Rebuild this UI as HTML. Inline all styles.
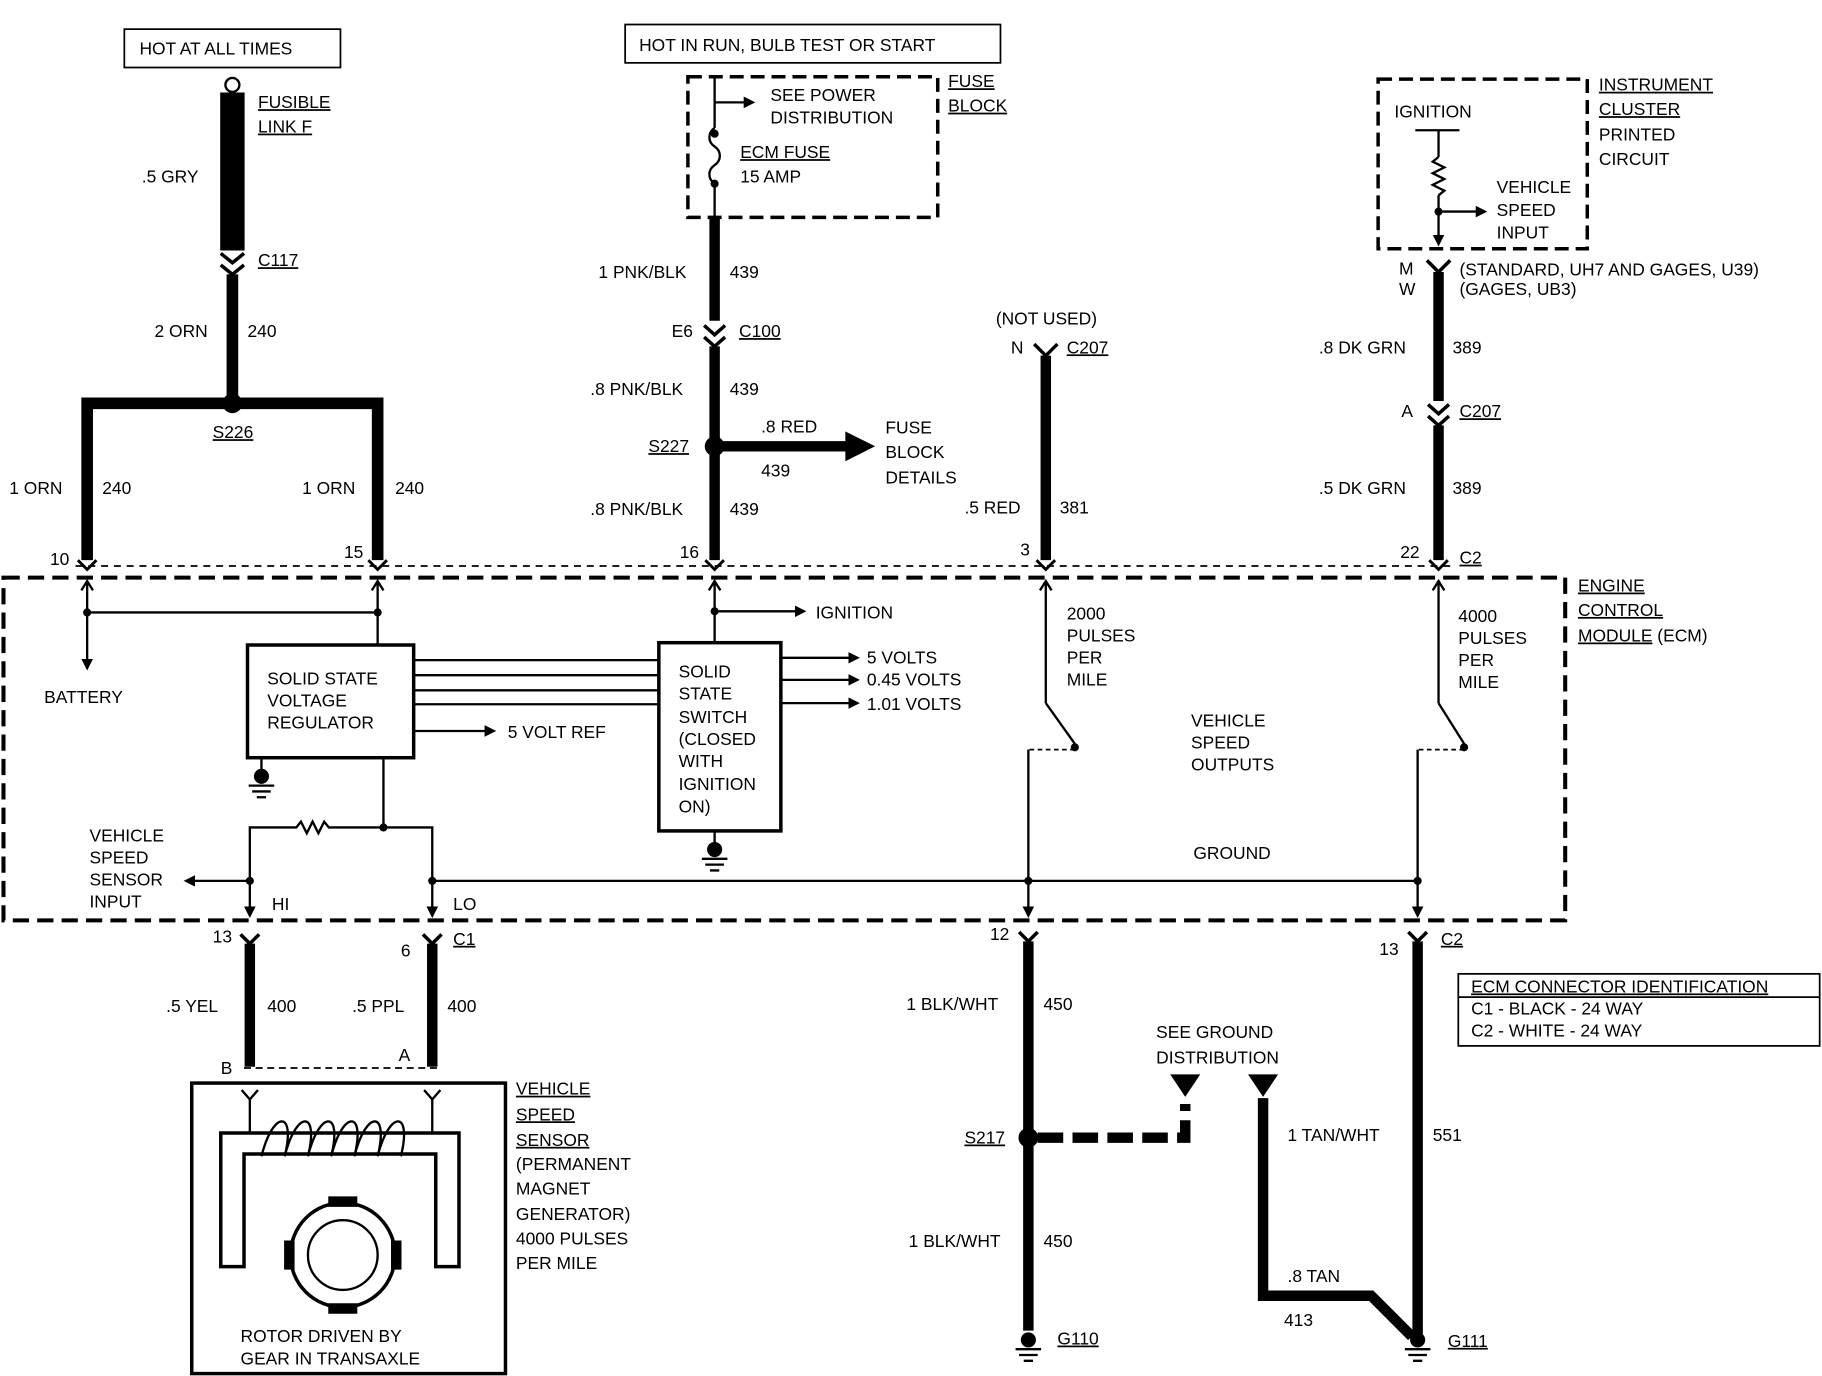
<!DOCTYPE html>
<html><head><meta charset="utf-8"><style>
html,body{margin:0;padding:0;background:#fff;}
svg{display:block;}
text{font-family:"Liberation Sans",Arial,sans-serif;font-size:15px;fill:#000;}
</style></head><body>
<svg width="1822" height="1376" viewBox="0 0 1568 1184" xmlns="http://www.w3.org/2000/svg">
<defs>
<marker id="ah" markerWidth="10" markerHeight="10" refX="8" refY="5" orient="auto" markerUnits="userSpaceOnUse"><path d="M0,0 L10,5 L0,10 z" fill="#000"/></marker>
</defs>
<g stroke="#000" fill="none">
<rect x="107" y="25" width="186" height="33" stroke-width="1.5"/>
<circle cx="200" cy="73" r="6" stroke-width="2"/>
<rect x="190" y="80" width="20" height="135" fill="#000"/>
<path d="M190,218 L200,226 L210,218 M190,228 L200,236 L210,228" stroke-width="3"/>
<line x1="200" y1="236" x2="200" y2="345" stroke-width="10"/>
<path d="M75,482 V347 H325 V482" stroke-width="10"/>
<circle cx="200" cy="347" r="8" fill="#000"/>
<rect x="538" y="21" width="323" height="33" stroke-width="1.5"/>
<rect x="592" y="66" width="215" height="121" stroke-width="3" stroke-dasharray="12,6"/>
<line x1="615" y1="66" x2="615" y2="110" stroke-width="2"/>
<path d="M615,110 c-6,4 -6,12 0,16 c6,4 6,12 0,16 c-6,4 -6,12 0,16" stroke-width="2"/>
<line x1="615" y1="158" x2="615" y2="190" stroke-width="2"/>
<line x1="615" y1="88" x2="648" y2="88" stroke-width="2" marker-end="url(#ah)"/>
<circle cx="615" cy="115" r="3" fill="#000"/><circle cx="615" cy="158" r="3" fill="#000"/>
<line x1="615" y1="188" x2="615" y2="276" stroke-width="9"/>
<path d="M606,280 L615,288 L624,280 M606,290 L615,298 L624,290" stroke-width="3"/>
<line x1="615" y1="298" x2="615" y2="482" stroke-width="9"/>
<circle cx="615" cy="384" r="8" fill="#000"/>
<line x1="622" y1="384" x2="730" y2="384" stroke-width="9"/>
<path d="M728,372 L752,384 L728,396 z" fill="#000"/>
<path d="M890,296 L900,306 L910,296" stroke-width="3"/>
<line x1="900" y1="306" x2="900" y2="482" stroke-width="9"/>
<rect x="1186" y="68" width="180" height="146" stroke-width="3" stroke-dasharray="12,6"/>
<line x1="1218" y1="112" x2="1256" y2="112" stroke-width="2"/>
<line x1="1238" y1="112" x2="1238" y2="135" stroke-width="2"/>
<path d="M1238,135 l-5,4 l10,5 l-10,5 l10,5 l-10,5 l10,5 l-5,4" stroke-width="2"/>
<line x1="1238" y1="168" x2="1238" y2="210" stroke-width="2" marker-end="url(#ah)"/>
<circle cx="1238" cy="182" r="3" fill="#000"/>
<line x1="1238" y1="182" x2="1278" y2="182" stroke-width="2" marker-end="url(#ah)"/>
<path d="M1228,224 L1238,234 L1248,224" stroke-width="3"/>
<line x1="1238" y1="234" x2="1238" y2="345" stroke-width="9"/>
<path d="M1229,348 L1238,356 L1247,348 M1229,358 L1238,366 L1247,358" stroke-width="3"/>
<line x1="1238" y1="366" x2="1238" y2="482" stroke-width="9"/>
<line x1="65" y1="487" x2="1248" y2="487" stroke-width="1.5" stroke-dasharray="6,5"/>
<path d="M67,482 L75,490 L83,482 M317,482 L325,490 L333,482 M607,482 L615,490 L623,482 M892,482 L900,490 L908,482 M1230,482 L1238,490 L1246,482" stroke-width="2.5"/>
<rect x="3" y="497" width="1344" height="295" stroke-width="3.5" stroke-dasharray="14,7"/>
<line x1="75" y1="500" x2="75" y2="575" stroke-width="2" marker-end="url(#ah)"/>
<path d="M70,508 L75,500 L80,508 M320,508 L325,500 L330,508 M610,508 L615,500 L620,508 M895,508 L900,500 L905,508 M1233,508 L1238,500 L1243,508" stroke-width="2"/>
<line x1="75" y1="527" x2="325" y2="527" stroke-width="2"/>
<circle cx="75" cy="527" r="3" fill="#000"/><circle cx="325" cy="527" r="3" fill="#000"/>
<line x1="325" y1="500" x2="325" y2="555" stroke-width="2"/>
<rect x="213" y="555" width="143" height="97" stroke-width="3"/>
<line x1="225" y1="652" x2="225" y2="665" stroke-width="2"/>
<circle cx="225" cy="668" r="6" fill="#000"/>
<path d="M214,676 H236 M217,681 H233 M221,686 H229" stroke-width="2"/>
<line x1="330" y1="652" x2="330" y2="712" stroke-width="2"/>
<path d="M215,758 V712 H255 l4,-5 l5,10 l5,-10 l5,10 l5,-10 l4,5 H372 V758" stroke-width="2"/>
<circle cx="330" cy="712" r="3" fill="#000"/>
<line x1="215" y1="758" x2="215" y2="788" stroke-width="2" marker-end="url(#ah)"/>
<line x1="372" y1="758" x2="372" y2="788" stroke-width="2" marker-end="url(#ah)"/>
<line x1="215" y1="758" x2="160" y2="758" stroke-width="2" marker-end="url(#ah)"/>
<circle cx="215" cy="758" r="3" fill="#000"/><circle cx="372" cy="758" r="3" fill="#000"/>
<line x1="372" y1="758" x2="1220" y2="758" stroke-width="2"/>
<line x1="356" y1="568" x2="567" y2="568" stroke-width="2"/>
<line x1="356" y1="581" x2="567" y2="581" stroke-width="2"/>
<line x1="356" y1="594" x2="567" y2="594" stroke-width="2"/>
<line x1="356" y1="606" x2="567" y2="606" stroke-width="2"/>
<line x1="356" y1="629" x2="425" y2="629" stroke-width="2" marker-end="url(#ah)"/>
<rect x="567" y="553" width="105" height="162" stroke-width="3"/>
<line x1="615" y1="500" x2="615" y2="553" stroke-width="2"/>
<line x1="615" y1="526" x2="692" y2="526" stroke-width="2" marker-end="url(#ah)"/>
<circle cx="615" cy="526" r="3" fill="#000"/>
<line x1="672" y1="566" x2="738" y2="566" stroke-width="2" marker-end="url(#ah)"/>
<line x1="672" y1="585" x2="738" y2="585" stroke-width="2" marker-end="url(#ah)"/>
<line x1="672" y1="605" x2="738" y2="605" stroke-width="2" marker-end="url(#ah)"/>
<line x1="615" y1="715" x2="615" y2="727" stroke-width="2"/>
<circle cx="615" cy="731" r="6" fill="#000"/>
<path d="M604,739 H626 M607,744 H623 M611,749 H619" stroke-width="2"/>
<line x1="900" y1="500" x2="900" y2="605" stroke-width="2"/>
<line x1="900" y1="605" x2="925" y2="640" stroke-width="2"/>
<circle cx="925" cy="643" r="3" fill="#000"/>
<path d="M925,645 H885" stroke-width="1.5" stroke-dasharray="4,3"/>
<line x1="885" y1="645" x2="885" y2="788" stroke-width="2" marker-end="url(#ah)"/>
<circle cx="885" cy="758" r="3" fill="#000"/>
<line x1="1238" y1="500" x2="1238" y2="605" stroke-width="2"/>
<line x1="1238" y1="605" x2="1260" y2="640" stroke-width="2"/>
<circle cx="1260" cy="643" r="3" fill="#000"/>
<path d="M1260,645 H1220" stroke-width="1.5" stroke-dasharray="4,3"/>
<line x1="1220" y1="645" x2="1220" y2="788" stroke-width="2" marker-end="url(#ah)"/>
<circle cx="1220" cy="758" r="3" fill="#000"/>
<path d="M207,804 L215,812 L223,804 M364,804 L372,812 L380,804 M877,802 L885,810 L893,802 M1212,802 L1220,810 L1228,802" stroke-width="3"/>
<line x1="215" y1="812" x2="215" y2="918" stroke-width="9"/>
<line x1="372" y1="812" x2="372" y2="918" stroke-width="9"/>
<line x1="210" y1="919" x2="377" y2="919" stroke-width="1.5" stroke-dasharray="6,4"/>
<rect x="165" y="932" width="270" height="250" stroke-width="3"/>
<path d="M208,938 L215,946 L222,938 M365,938 L372,946 L379,938 M215,946 V975 M372,946 V975" stroke-width="2"/>
<path d="M190,1090 V975 H395 V1090 H375 V993 H210 V1090 Z" stroke-width="3"/>
<path d="M225,995 C235,955 255,955 245,995 C255,955 275,955 265,995 C275,955 295,955 285,995 C295,955 315,955 305,995 C315,955 335,955 325,995 C335,955 355,955 345,995" stroke-width="2"/>
<circle cx="295" cy="1080" r="45" stroke-width="3"/>
<circle cx="295" cy="1080" r="30" stroke-width="2"/>
<path d="M283,1030 h24 v8 h-24z M283,1122 h24 v8 h-24z M245,1068 v24 h8 v-24z M337,1068 v24 h8 v-24z" fill="#000"/>
<line x1="885" y1="810" x2="885" y2="1145" stroke-width="9"/>
<circle cx="885" cy="979" r="8" fill="#000"/>
<path d="M893,979 H1020 V950" stroke-width="9" stroke-dasharray="22,8"/>
<path d="M1008,925 L1020,943 L1032,925 z M1075,925 L1087,943 L1099,925 z" fill="#000"/>
<path d="M1087,945 V1115 H1180 L1215,1150" stroke-width="9"/>
<line x1="1220" y1="810" x2="1220" y2="1148" stroke-width="9"/>
<circle cx="885" cy="1153" r="6" fill="#000"/>
<path d="M874,1161 H896 M877,1166 H893 M881,1171 H889" stroke-width="2"/>
<circle cx="1220" cy="1153" r="6" fill="#000"/>
<path d="M1209,1161 H1231 M1212,1166 H1228 M1216,1171 H1224" stroke-width="2"/>
<rect x="1255" y="838" width="311" height="62" stroke-width="1.5"/>
<line x1="1255" y1="858" x2="1566" y2="858" stroke-width="1.5"/>
</g>
<g>
<text x="120" y="47">HOT AT ALL TIMES</text>
<text x="222" y="93" text-decoration="underline">FUSIBLE</text>
<text x="222" y="114" text-decoration="underline">LINK F</text>
<text x="122" y="157">.5 GRY</text>
<text x="222" y="229" text-decoration="underline">C117</text>
<text x="133" y="290">2 ORN</text><text x="213" y="290">240</text>
<text x="183" y="377" text-decoration="underline">S226</text>
<text x="8" y="425">1 ORN</text><text x="88" y="425">240</text>
<text x="260" y="425">1 ORN</text><text x="340" y="425">240</text>
<text x="43" y="486" font-size="13">10</text><text x="296" y="480" font-size="13">15</text>
<text x="550" y="44">HOT IN RUN, BULB TEST OR START</text>
<text x="663" y="87">SEE POWER</text><text x="663" y="106">DISTRIBUTION</text>
<text x="637" y="136" text-decoration="underline">ECM FUSE</text><text x="637" y="157">15 AMP</text>
<text x="816" y="75" text-decoration="underline">FUSE</text><text x="816" y="96" text-decoration="underline">BLOCK</text>
<text x="515" y="239">1 PNK/BLK</text><text x="628" y="239">439</text>
<text x="578" y="290">E6</text><text x="636" y="290" text-decoration="underline">C100</text>
<text x="508" y="340">.8 PNK/BLK</text><text x="628" y="340">439</text>
<text x="655" y="372">.8 RED</text><text x="655" y="410">439</text>
<text x="558" y="389" text-decoration="underline">S227</text>
<text x="762" y="373">FUSE</text><text x="762" y="394">BLOCK</text><text x="762" y="416">DETAILS</text>
<text x="508" y="443">.8 PNK/BLK</text><text x="628" y="443">439</text>
<text x="585" y="480" font-size="13">16</text>
<text x="857" y="279">(NOT USED)</text>
<text x="870" y="304">N</text><text x="918" y="304" text-decoration="underline">C207</text>
<text x="830" y="442">.5 RED</text><text x="912" y="442">381</text>
<text x="878" y="478" font-size="13">3</text>
<text x="1376" y="78" text-decoration="underline">INSTRUMENT</text>
<text x="1376" y="99" text-decoration="underline">CLUSTER</text>
<text x="1376" y="121">PRINTED</text><text x="1376" y="142">CIRCUIT</text>
<text x="1200" y="101">IGNITION</text>
<text x="1288" y="166">VEHICLE</text><text x="1288" y="186">SPEED</text><text x="1288" y="205">INPUT</text>
<text x="1204" y="236">M</text><text x="1204" y="254">W</text>
<text x="1256" y="237">(STANDARD, UH7 AND GAGES, U39)</text>
<text x="1256" y="254">(GAGES, UB3)</text>
<text x="1135" y="304">.8 DK GRN</text><text x="1250" y="304">389</text>
<text x="1206" y="359">A</text><text x="1256" y="359" text-decoration="underline">C207</text>
<text x="1135" y="425">.5 DK GRN</text><text x="1250" y="425">389</text>
<text x="1205" y="480" font-size="13">22</text><text x="1256" y="485" text-decoration="underline">C2</text>
<text x="1358" y="509" text-decoration="underline">ENGINE</text>
<text x="1358" y="530" text-decoration="underline">CONTROL</text>
<text x="1358" y="552"><tspan text-decoration="underline">MODULE</tspan> (ECM)</text>
<text x="38" y="605">BATTERY</text>
<text x="230" y="589">SOLID STATE</text><text x="230" y="608">VOLTAGE</text><text x="230" y="627">REGULATOR</text>
<text x="437" y="635">5 VOLT REF</text>
<text x="584" y="583">SOLID</text><text x="584" y="602">STATE</text><text x="584" y="622">SWITCH</text>
<text x="584" y="641">(CLOSED</text><text x="584" y="660">WITH</text><text x="584" y="680">IGNITION</text><text x="584" y="699">ON)</text>
<text x="702" y="532">IGNITION</text>
<text x="746" y="571">5 VOLTS</text><text x="746" y="590">0.45 VOLTS</text><text x="746" y="611">1.01 VOLTS</text>
<text x="918" y="533">2000</text><text x="918" y="552">PULSES</text><text x="918" y="571">PER</text><text x="918" y="590">MILE</text>
<text x="1255" y="535">4000</text><text x="1255" y="554">PULSES</text><text x="1255" y="573">PER</text><text x="1255" y="592">MILE</text>
<text x="1025" y="625">VEHICLE</text><text x="1025" y="644">SPEED</text><text x="1025" y="663">OUTPUTS</text>
<text x="1027" y="739">GROUND</text>
<text x="77" y="724">VEHICLE</text><text x="77" y="743">SPEED</text><text x="77" y="762">SENSOR</text><text x="77" y="781">INPUT</text>
<text x="234" y="783">HI</text><text x="390" y="783">LO</text>
<text x="183" y="811" font-size="13">13</text><text x="345" y="823" font-size="13">6</text>
<text x="390" y="813" text-decoration="underline">C1</text>
<text x="852" y="809" font-size="13">12</text><text x="1187" y="822" font-size="13">13</text>
<text x="1240" y="813" text-decoration="underline">C2</text>
<text x="143" y="871">.5 YEL</text><text x="230" y="871">400</text>
<text x="303" y="871">.5 PPL</text><text x="385" y="871">400</text>
<text x="190" y="924">B</text><text x="343" y="913">A</text>
<text x="444" y="942" text-decoration="underline">VEHICLE</text>
<text x="444" y="964" text-decoration="underline">SPEED</text>
<text x="444" y="986" text-decoration="underline">SENSOR</text>
<text x="444" y="1007">(PERMANENT</text><text x="444" y="1028">MAGNET</text>
<text x="444" y="1050">GENERATOR)</text><text x="444" y="1071">4000 PULSES</text><text x="444" y="1092">PER MILE</text>
<text x="207" y="1155">ROTOR DRIVEN BY</text><text x="207" y="1174">GEAR IN TRANSAXLE</text>
<text x="780" y="869">1 BLK/WHT</text><text x="898" y="869">450</text>
<text x="995" y="893">SEE GROUND</text><text x="995" y="915">DISTRIBUTION</text>
<text x="830" y="984" text-decoration="underline">S217</text>
<text x="1108" y="982">1 TAN/WHT</text><text x="1233" y="982">551</text>
<text x="782" y="1073">1 BLK/WHT</text><text x="898" y="1073">450</text>
<text x="1108" y="1103">.8 TAN</text><text x="1105" y="1141">413</text>
<text x="910" y="1157" text-decoration="underline">G110</text>
<text x="1246" y="1159" text-decoration="underline">G111</text>
<text x="1266" y="854" text-decoration="underline">ECM CONNECTOR IDENTIFICATION</text>
<text x="1266" y="873">C1 - BLACK - 24 WAY</text>
<text x="1266" y="892">C2 - WHITE - 24 WAY</text>
</g>
</svg>
</body></html>
